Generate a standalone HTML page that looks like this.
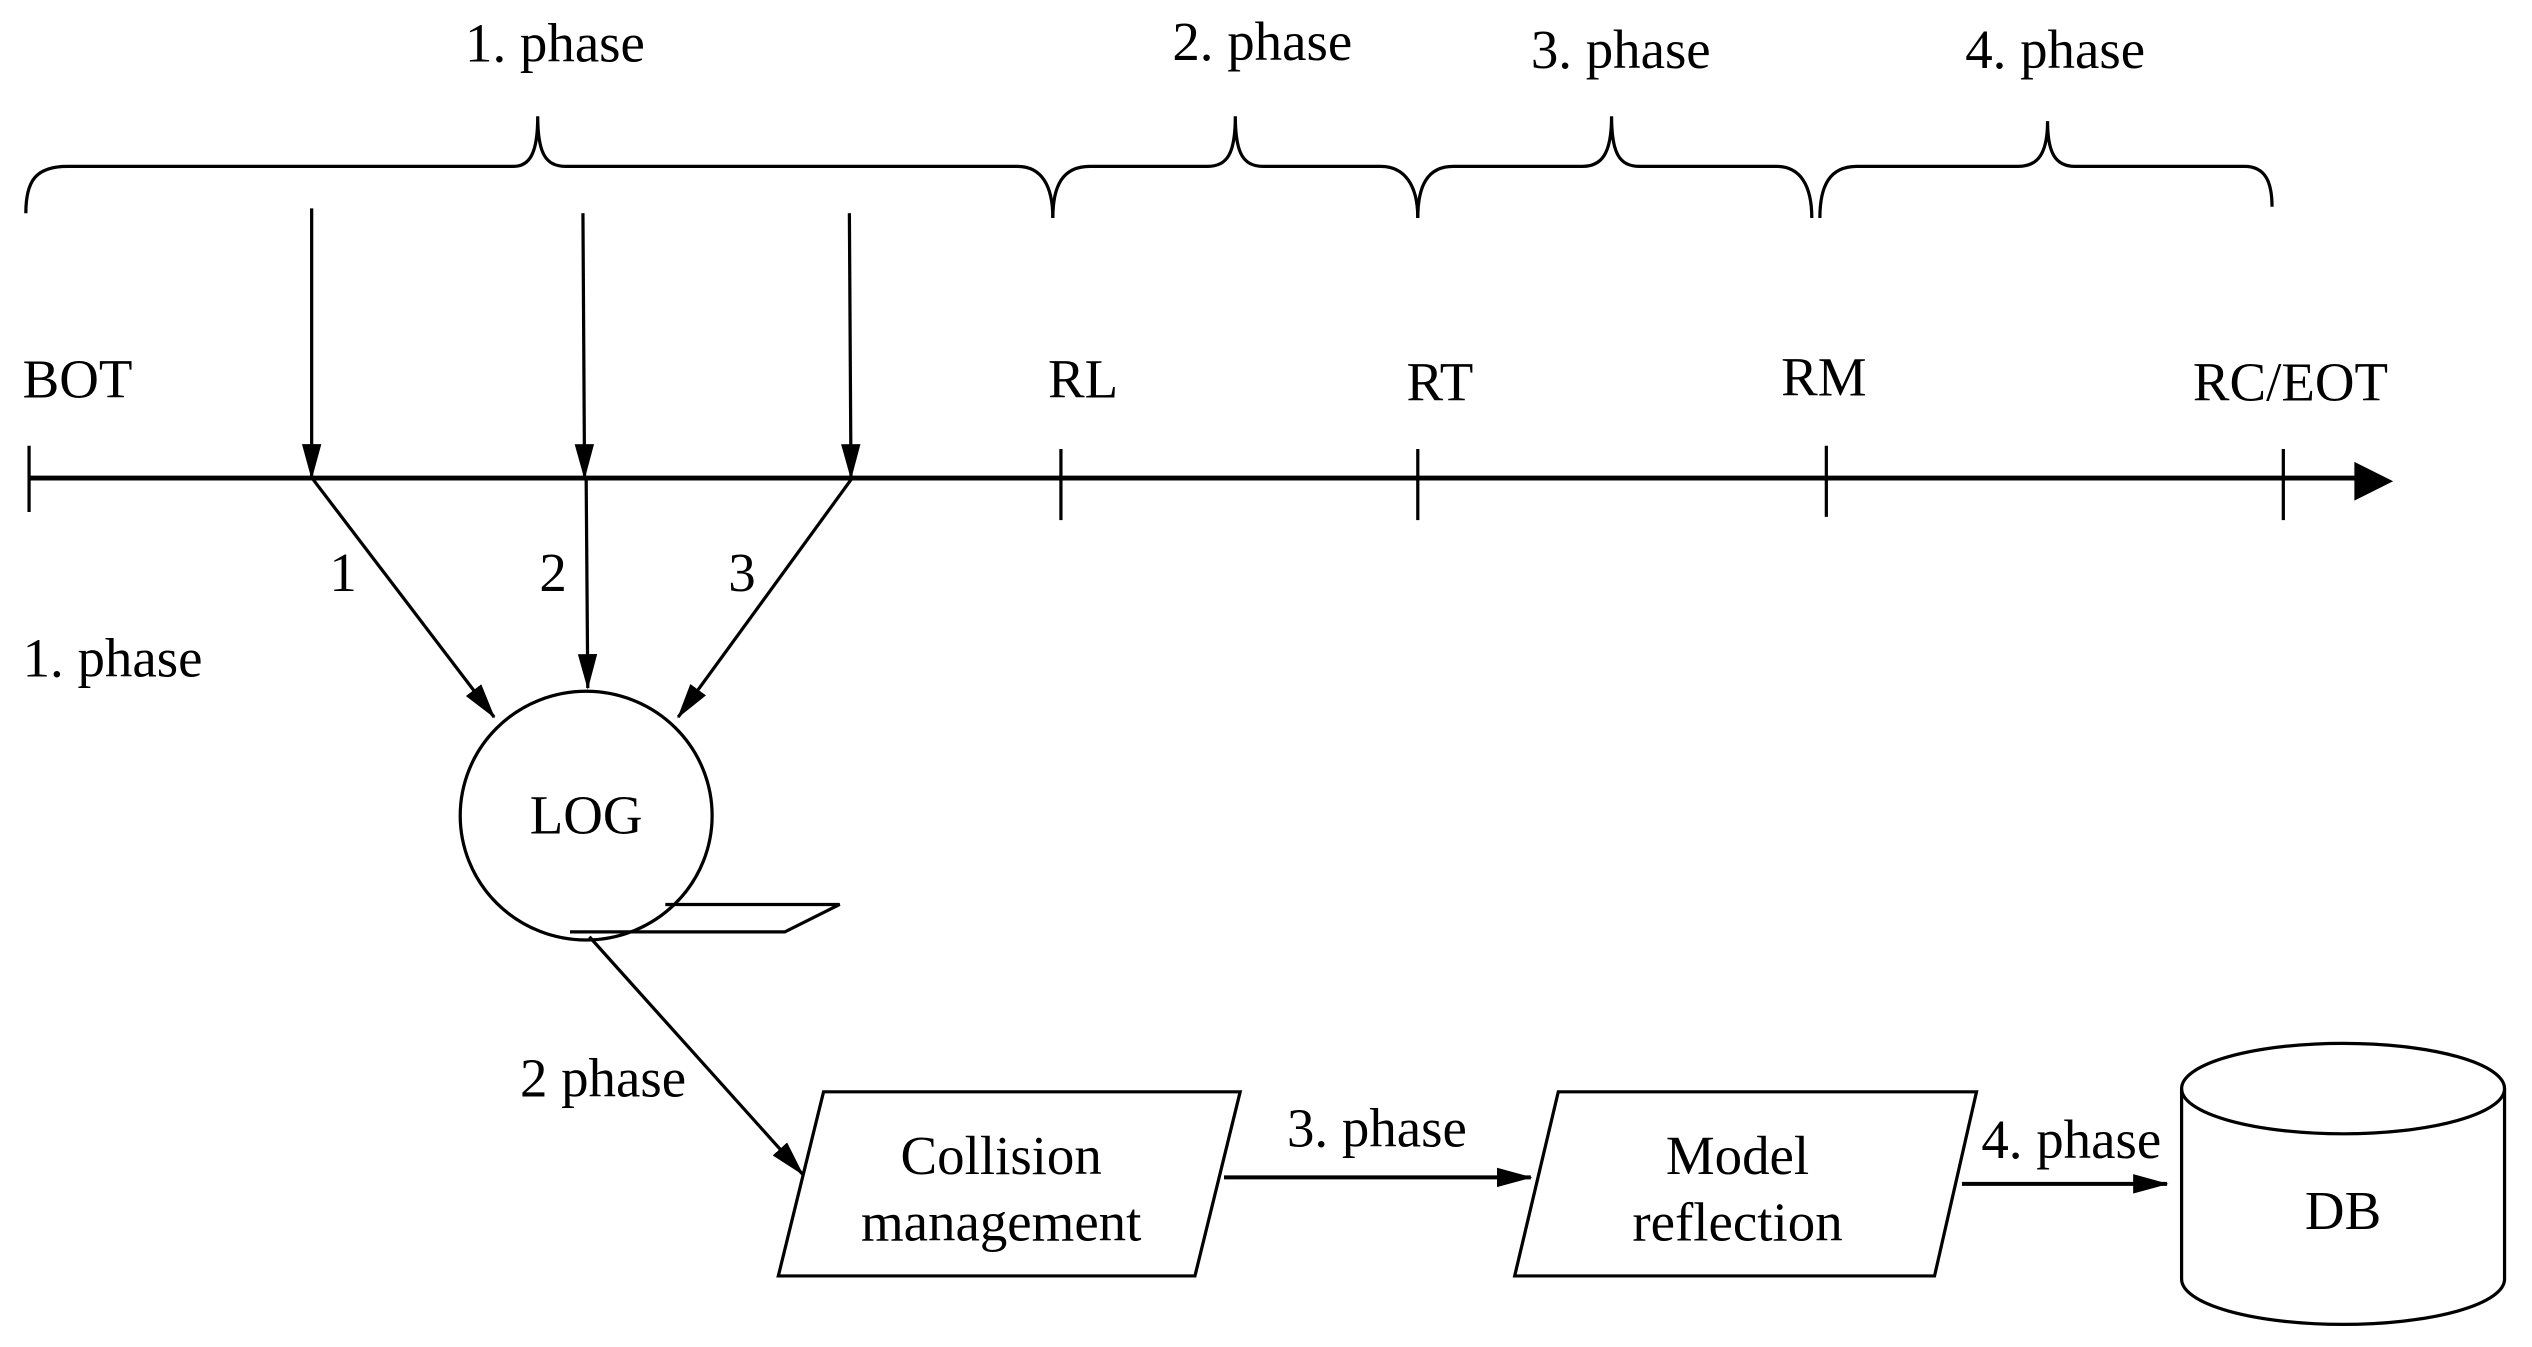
<!DOCTYPE html>
<html><head><meta charset="utf-8"><style>
html,body{margin:0;padding:0;background:#fff;}
svg{display:block;}
text{font-family:"Liberation Serif",serif;font-size:34px;fill:#000;}
</style></head><body>
<svg width="2532" height="1347" viewBox="0 0 1568 834" preserveAspectRatio="none" xmlns="http://www.w3.org/2000/svg">
<defs>
<marker id="a" markerWidth="22" markerHeight="12" refX="21" refY="6" orient="auto" markerUnits="userSpaceOnUse" viewBox="0 0 22 12">
<path d="M0,0 L22,6 L0,12 z" fill="#000"/></marker>
</defs>
<g fill="none" stroke="#000" stroke-width="2">
<path d="M16,132 C16,112 22,103 42,103 L318,103 C328,103 333,95 333,72 C333,95 338,103 350,103 L630,103 C645,103 652,115 652,135"/>
<path d="M652,135 C652,115 658,103 675,103 L748,103 C760,103 765,95 765,72 C765,95 770,103 782,103 L855,103 C870,103 878,115 878,135"/>
<path d="M878,135 C878,115 884,103 900,103 L980,103 C992,103 998,95 998,72 C998,95 1003,103 1015,103 L1100,103 C1115,103 1122,115 1122,135"/>
<path d="M1127,135 C1127,115 1133,103 1150,103 L1250,103 C1262,103 1268,95 1268,75 C1268,95 1273,103 1285,103 L1390,103 C1403,103 1407,113 1407,128"/>
<line x1="18" y1="296" x2="1462" y2="296" stroke-width="3"/>
<line x1="18" y1="276" x2="18" y2="317"/>
<line x1="657" y1="278" x2="657" y2="322"/>
<line x1="878" y1="278" x2="878" y2="322"/>
<line x1="1131" y1="276" x2="1131" y2="320"/>
<line x1="1414" y1="278" x2="1414" y2="322"/>
<line x1="193" y1="129" x2="193" y2="296" marker-end="url(#a)"/>
<line x1="361" y1="132" x2="362" y2="296" marker-end="url(#a)"/>
<line x1="526" y1="132" x2="527" y2="296" marker-end="url(#a)"/>
<line x1="194" y1="297" x2="306" y2="444" marker-end="url(#a)"/>
<line x1="363" y1="297" x2="364" y2="426" marker-end="url(#a)"/>
<line x1="527" y1="297" x2="420" y2="444" marker-end="url(#a)"/>
<ellipse cx="363" cy="505" rx="78" ry="77"/>
<path d="M412,560 L520,560 L486,577 L353,577"/>
<line x1="365" y1="580" x2="497" y2="727" marker-end="url(#a)"/>
<polygon points="510,676 768,676 740,790 482,790"/>
<polygon points="965,676 1224,676 1198,790 938,790"/>
<line x1="758" y1="729" x2="948" y2="729" stroke-width="2.5" marker-end="url(#a)"/>
<line x1="1215" y1="733" x2="1342" y2="733" stroke-width="2.5" marker-end="url(#a)"/>
<path d="M1351,674 L1351,792 A100,28 0 0 0 1551,792 L1551,674"/>
<ellipse cx="1451" cy="674" rx="100" ry="28"/>
</g>
<path d="M1482,298 L1458,286 L1458,310 z" fill="#000"/>
<text x="288" y="38">1. phase</text>
<text x="726" y="37">2. phase</text>
<text x="948" y="42">3. phase</text>
<text x="1217" y="42">4. phase</text>
<text x="14" y="246">BOT</text>
<text x="649" y="246">RL</text>
<text x="871" y="248">RT</text>
<text x="1103" y="245">RM</text>
<text x="1358" y="248">RC/EOT</text>
<text x="204" y="366">1</text>
<text x="334" y="366">2</text>
<text x="451" y="366">3</text>
<text x="14" y="419">1. phase</text>
<text x="363" y="516" text-anchor="middle">LOG</text>
<text x="322" y="679">2 phase</text>
<text x="620" y="727" text-anchor="middle">Collision</text>
<text x="620" y="768" text-anchor="middle">management</text>
<text x="797" y="710">3. phase</text>
<text x="1076" y="727" text-anchor="middle">Model</text>
<text x="1076" y="768" text-anchor="middle">reflection</text>
<text x="1227" y="717">4. phase</text>
<text x="1451" y="761" text-anchor="middle">DB</text>
</svg>
</body></html>
